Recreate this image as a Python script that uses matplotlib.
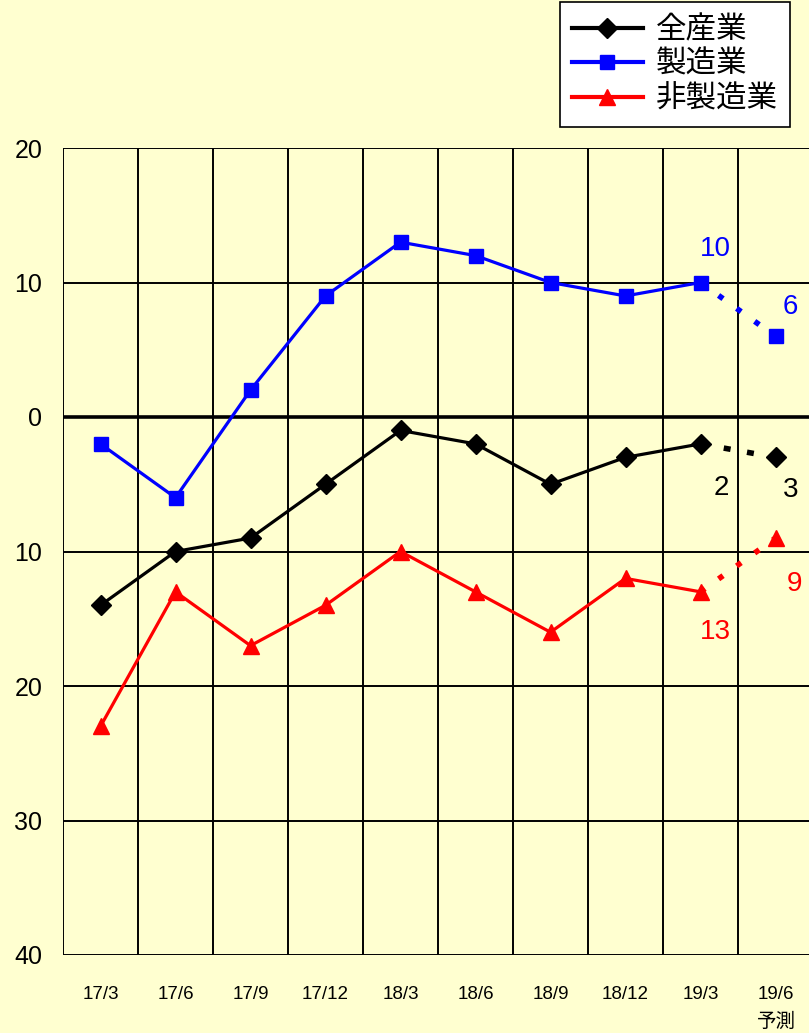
import matplotlib
matplotlib.use("Agg")
import matplotlib.pyplot as plt
from matplotlib.lines import Line2D

plt.rcParams['font.family'] = ['Liberation Sans', 'Noto Sans CJK JP', 'DejaVu Sans']
plt.rcParams['lines.scale_dashes'] = False

categories = ['17/3', '17/6', '17/9', '17/12', '18/3', '18/6', '18/9', '18/12', '19/3', '19/6']
all_ind = [-14, -10, -9, -5, -1, -2, -5, -3, -2, -3]
manuf = [-2, -6, 2, 9, 13, 12, 10, 9, 10, 6]
nonmanuf = [-23, -13, -17, -14, -10, -13, -16, -12, -13, -9]
series_names = ['全産業', '製造業', '非製造業']
y_ticks = [20, 10, 0, -10, -20, -30, -40]

bg = '#FFFFD0'
fig = plt.figure(figsize=(8.09, 10.33), dpi=100, facecolor=bg)
ax = fig.add_axes([63/809, 1-955/1033, 750/809, 807/1033], facecolor=bg)

x = list(range(len(categories)))
specs = [
    (all_ind, 'black', 'D', 10, (0, (5, 12))),
    (manuf, '#0000FF', 's', 10, (0, (4, 12))),
    (nonmanuf, '#FF0000', '^', 12, (0, (4, 12))),
]
for vals, c, m, ms, dash in specs:
    ax.plot(x[:-1], vals[:-1], color=c, lw=2.3, marker=m, ms=ms, zorder=4)
    ax.plot(x[-2:], vals[-2:], color=c, lw=4, ls=dash, zorder=3)
    ax.plot(x[-1:], vals[-1:], color=c, marker=m, ms=ms, ls='none', zorder=4)

ax.set_xlim(-0.5, 9.5)
ax.set_ylim(-40, 20)
ax.set_yticks(y_ticks)
ax.set_yticklabels([str(abs(v)) for v in y_ticks], fontsize=18)
ax.set_xticks(x)
ax.set_xticklabels(categories, fontsize=13.5)
ax.tick_params(axis='both', length=0)
ax.tick_params(axis='y', pad=15)
ax.tick_params(axis='x', pad=22)
for v in y_ticks:
    ax.axhline(v, color='black', lw=1.4, zorder=1)
ax.axhline(0, color='black', lw=2.6, zorder=2)
for xv in [i + 0.5 for i in range(-1, 10)]:
    ax.axvline(xv, color='black', lw=1.4, zorder=1)
for s in ax.spines.values():
    s.set_visible(False)

# forecast label
fig.text(776/809, 1-1021/1033, '予測', ha='center', va='center',
         fontsize=14, family=['Noto Sans CJK JP'])

# data labels
lab = dict(fontsize=20, ha='center', va='center')
ax.text(8.2, 12.5, '10', color='#0000FF', **lab)
ax.text(9.2, 8.2, '6', color='#0000FF', **lab)
ax.text(8.28, -5.3, '2', color='black', **lab)
ax.text(9.2, -5.4, '3', color='black', **lab)
ax.text(8.2, -16.0, '13', color='#FF0000', **lab)
ax.text(9.25, -12.4, '9', color='#FF0000', **lab)

handles = [
    Line2D([], [], color='black', lw=3, marker='D', ms=10),
    Line2D([], [], color='#0000FF', lw=3, marker='s', ms=10),
    Line2D([], [], color='#FF0000', lw=3, marker='^', ms=12),
]
leg = fig.legend(handles, series_names, loc='upper left',
                 bbox_to_anchor=(560/809, 1-2/1033), frameon=True, fancybox=False,
                 edgecolor='black', facecolor='white', framealpha=1,
                 prop={'family': ['Noto Sans CJK JP'], 'size': 22},
                 handlelength=2.3, handletextpad=0.45, labelspacing=0.12,
                 borderpad=0.4, borderaxespad=0)
leg.get_frame().set_linewidth(1.2)

fig.savefig('out.png', dpi=100, facecolor=bg)
